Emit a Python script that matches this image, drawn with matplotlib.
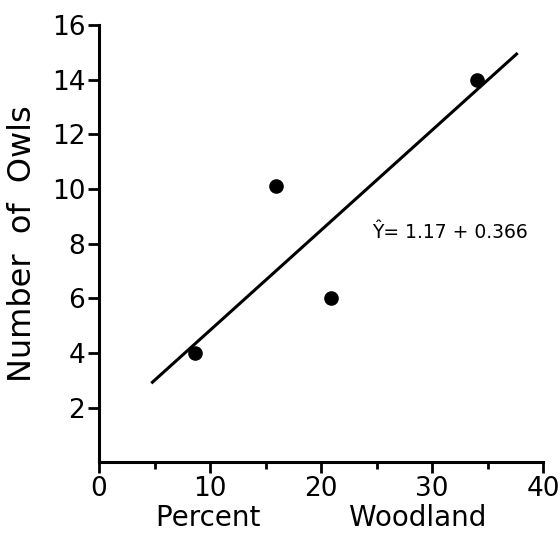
import numpy as np
import matplotlib.pyplot as plt

# data
woodland = [8.6, 15.9, 20.9, 34.0]
owls = [4.0, 10.1, 6.0, 14.0]
intercept, slope = 1.17, 0.366
line_x = [4.8, 37.6]

x_ticks = [0, 10, 20, 30, 40]
x_minor = [5, 15, 25, 35]
y_ticks = [2, 4, 6, 8, 10, 12, 14, 16]

plt.rcParams['font.family'] = ['DejaVu Sans']

fig = plt.figure(figsize=(5.6, 5.4), dpi=100)
ax = fig.add_axes([0.177, 0.144, 0.793, 0.81])

ax.scatter(woodland, owls, s=90, color='black', zorder=3)
lx = np.array(line_x)
ax.plot(lx, intercept + slope * lx, color='black', lw=2.2)
ax.text(24.6, 8.4, 'Ŷ= 1.17 + 0.366', fontsize=13.5, va='center', ha='left')

ax.set_xlim(0, 40)
ax.set_ylim(0, 16)
ax.set_xticks(x_ticks)
ax.set_xticks(x_minor, minor=True)
ax.set_yticks(y_ticks)
ax.tick_params(axis='both', which='major', labelsize=19, width=2, length=8, direction='out')
ax.tick_params(axis='x', which='minor', width=2, length=5, direction='out')
ax.tick_params(axis='x', pad=2)
ax.tick_params(axis='y', pad=2)

for s in ['top', 'right']:
    ax.spines[s].set_visible(False)
for s in ['left', 'bottom']:
    ax.spines[s].set_linewidth(2.2)

ax.set_xlabel('Percent          Woodland', fontsize=20, labelpad=1)
ax.set_ylabel('Number  of  Owls', fontsize=23, labelpad=10)

fig.savefig('out.png', dpi=100)
